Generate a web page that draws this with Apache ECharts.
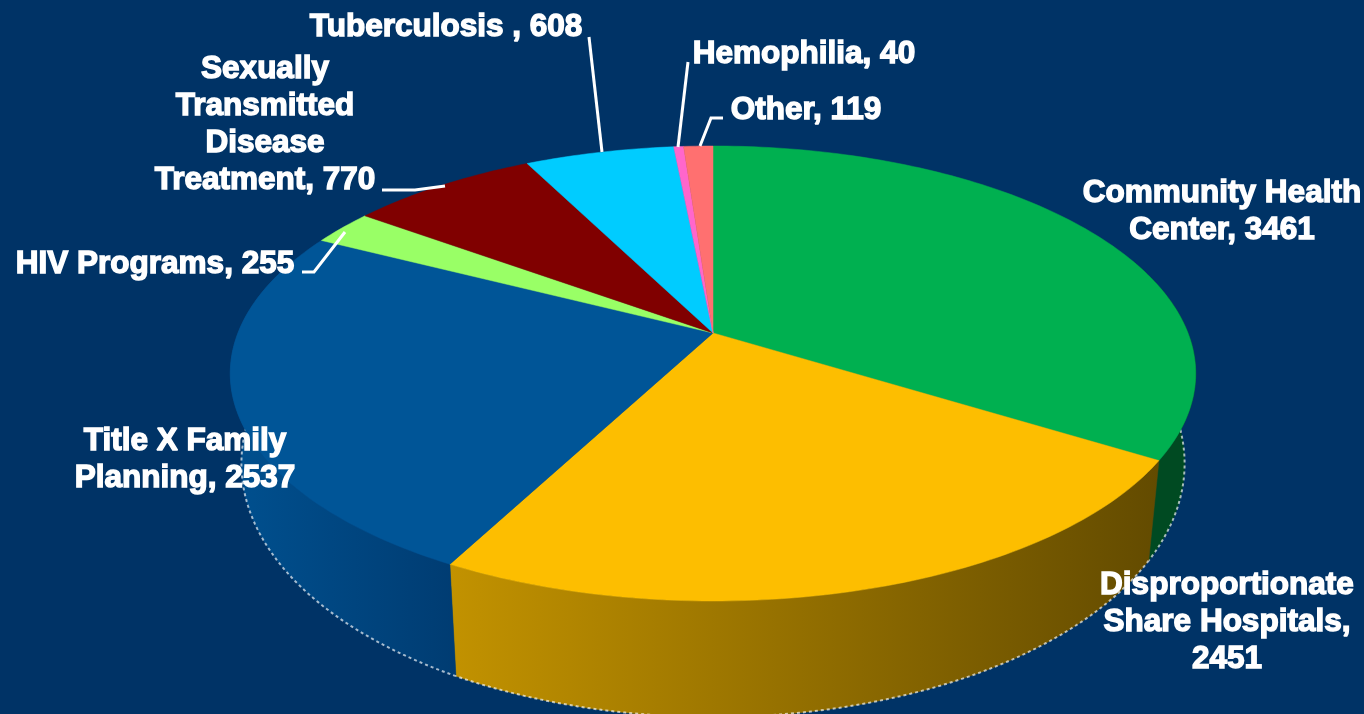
<!DOCTYPE html>
<html>
<head>
<meta charset="utf-8">
<title>Pie</title>
<script src="https://cdn.jsdelivr.net/npm/echarts@6/dist/echarts.min.js"></script>
<style>
html, body { margin: 0; padding: 0; background: #003366; }
#chart { width: 1364px; height: 714px; }
</style>
</head>
<body>
<div id="chart"></div>
<script>
// clockwise from 12 o'clock
var categories = ['Community Health\nCenter', 'Disproportionate\nShare Hospitals', 'Title X Family\nPlanning', 'HIV Programs', 'Sexually\nTransmitted\nDisease\nTreatment', 'Tuberculosis ', 'Hemophilia', 'Other'];
var values = [3461, 2451, 2537, 255, 770, 608, 40, 119];
var separators = [', ', ',\n', ', ', ', ', ', ', ', ', ', ', ', '];

var topColors = ['#00B050', '#FDBE00', '#005597', '#99FF66', '#800000', '#00CCFF', '#FF66CC', '#FF7070'];
var wallColors = [['#004A22', '#004A22'], ['#C29200', '#634B00'], ['#00508F', '#003C72']];

// label centres and leader lines, in page pixels
var labelPos = [[1222, 212], [1227, 622], [185, 460], [155, 264], [265, 125], [446, 27], [804, 54], [806, 110]];
var leaders = [
    [[302, 272], [314, 272], [345, 232]],
    [[382, 190], [415, 190], [445, 186]],
    [[589, 37], [602, 152]],
    [[688, 62], [678, 147]],
    [[723, 118], [711, 118], [700, 146]]
];

// perspective of the disc
var CX = 713, CY = 333, RX = 475, RY = 220.3, K = 0.178;
// lower rim against the upper one
var BOTTOM_SX = 0.977, BOTTOM_SY = 1.114, BOTTOM_Y = 418.5;
var WALL_FROM = 70, WALL_TO = 290;

var total = 0;
for (var i = 0; i < values.length; i++) {
    total += values[i];
}

function startOf(index) {
    var sum = 0;
    for (var i = 0; i < index; i++) {
        sum += values[i];
    }
    return sum / total * 360;
}

function topPoint(deg) {
    var a = deg * Math.PI / 180;
    var u = -Math.cos(a);
    var d = 1 - K * u;
    return [CX + RX * Math.sin(a) / d, CY + RY * u / d];
}

function bottomPoint(deg) {
    var p = topPoint(deg);
    return [CX + BOTTOM_SX * (p[0] - CX), BOTTOM_Y + BOTTOM_SY * (p[1] - CY)];
}

function arc(from, to, fn) {
    var pts = [];
    var n = Math.max(2, Math.ceil(to - from));
    for (var i = 0; i <= n; i++) {
        pts.push(fn(from + (to - from) * i / n));
    }
    return pts;
}

function renderWall(params, api) {
    var start = startOf(params.dataIndex);
    var from = Math.max(start, WALL_FROM);
    var to = Math.min(start + api.value(0) / total * 360, WALL_TO);
    if (to <= from) {
        return null;
    }
    var upper = arc(from, to, topPoint);
    var lower = arc(from, to, bottomPoint);
    var shape = upper.concat(lower.slice().reverse());
    var colors = wallColors[params.dataIndex] || ['#000', '#000'];
    var xs = lower.concat(upper).map(function(p) { return p[0]; });
    var fill = new echarts.graphic.LinearGradient(Math.min.apply(null, xs), 0, Math.max.apply(null, xs), 0, [
        {offset: 0, color: colors[0]},
        {offset: 1, color: colors[1]}
    ], true);
    return {
        type: 'group',
        children: [
            {type: 'polygon', shape: {points: shape}, style: {fill: fill, stroke: fill, lineWidth: 0.5}},
            {type: 'polyline', shape: {points: lower}, style: {fill: null, stroke: 'rgba(255,255,255,0.65)', lineWidth: 2, lineDash: [3, 3]}}
        ]
    };
}

function renderTop(params, api) {
    var from = startOf(params.dataIndex);
    var to = from + api.value(0) / total * 360;
    var pts = [[CX, CY]].concat(arc(from, to, topPoint));
    return {
        type: 'polygon',
        shape: {points: pts},
        style: {fill: topColors[params.dataIndex], stroke: topColors[params.dataIndex], lineWidth: 0.5}
    };
}

var rows = values.map(function(v) { return [v]; });

var graphics = [];
leaders.forEach(function(pts) {
    graphics.push({
        type: 'polyline',
        z: 10,
        shape: {points: pts},
        style: {fill: null, stroke: '#fff', lineWidth: 3}
    });
});
categories.forEach(function(name, i) {
    graphics.push({
        type: 'text',
        z: 11,
        x: labelPos[i][0],
        y: labelPos[i][1],
        style: {
            text: name + separators[i] + values[i],
            fill: '#fff',
            stroke: '#fff',
            lineWidth: 1.4,
            font: 'bold 31.5px "Liberation Sans", Arial, sans-serif',
            lineHeight: 37,
            align: 'center',
            verticalAlign: 'middle'
        }
    });
});

var chart = echarts.init(document.getElementById('chart'));
chart.setOption({
    backgroundColor: '#003366',
    animation: false,
    tooltip: {show: false},
    series: [
        {type: 'custom', coordinateSystem: 'none', renderItem: renderWall, data: rows, z: 2, silent: true},
        {type: 'custom', coordinateSystem: 'none', renderItem: renderTop, data: rows, z: 3, silent: true}
    ],
    graphic: graphics
});
</script>
</body>
</html>
